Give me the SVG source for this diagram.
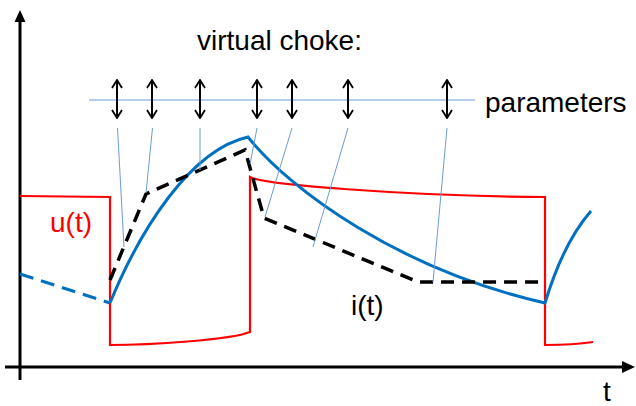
<svg xmlns="http://www.w3.org/2000/svg" width="636" height="406" viewBox="0 0 636 406">
<style>
text{font-family:"Liberation Sans",Arial,sans-serif;font-size:28px;fill:#000}
.red{fill:none;stroke:#FF0000;stroke-width:2.2}
.blue{fill:none;stroke:#0070C0;stroke-width:3}
.bdash{fill:none;stroke:#0070C0;stroke-width:3;stroke-dasharray:14 8}
.kdash{fill:none;stroke:#000;stroke-width:3.5;stroke-dasharray:13 8}
.lead{fill:none;stroke:#6C9BD8;stroke-width:1}
.dbl{fill:none;stroke:#000;stroke-width:2;marker-start:url(#chev);marker-end:url(#chev)}
.axis{fill:none;stroke:#000;stroke-width:3}
</style>
<defs>
<marker id="chev" markerUnits="userSpaceOnUse" viewBox="0 0 10 12" refX="9" refY="6" markerWidth="10" markerHeight="12" orient="auto-start-reverse">
<path d="M1,1 L9,6 L1,11" fill="none" stroke="#000" stroke-width="1.8"/>
</marker>
</defs>
<g id="axes">
<line class="axis" x1="20" y1="20" x2="20" y2="380"/>
<path d="M20,10 L14.5,22 L25.5,22 Z" fill="#000"/>
<line class="axis" x1="5" y1="367" x2="624" y2="367"/>
<path d="M635,367 L622,361 L622,373 Z" fill="#000"/>
<text x="603" y="401">t</text>
</g>
<g id="voltage">
<path class="red" d="M20,196 L110,197 L110,345 C150,345 230,340 250,332 L250,177 C262,184 400,196 545,197 L545,345 C560,345 580,344 593,342"/>
<text x="50" y="232" style="fill:#FF0000">u(t)</text>
</g>
<g id="current">
<path class="bdash" d="M20,274 L110,303"/>
<path class="blue" d="M110,303 C140,230 190,150 248,137 C290,190 400,270 545,303 C555,270 570,235 591,211"/>
<text x="351" y="315">i(t)</text>
</g>
<g id="choke-model">
<path class="kdash" d="M110,280 L146,194 L245,150 L264,218 L418,282 L545,282"/>
</g>
<g id="parameters">
<text x="197" y="50">virtual choke:</text>
<line class="lead" x1="89" y1="100" x2="475" y2="100"/>
<text x="485" y="112">parameters</text>
<g id="arrows">
<line class="dbl" x1="117" y1="80" x2="117" y2="118"/>
<line class="dbl" x1="152" y1="80" x2="152" y2="118"/>
<line class="dbl" x1="200" y1="80" x2="200" y2="118"/>
<line class="dbl" x1="257" y1="80" x2="257" y2="118"/>
<line class="dbl" x1="292" y1="80" x2="292" y2="118"/>
<line class="dbl" x1="348" y1="80" x2="348" y2="118"/>
<line class="dbl" x1="447" y1="80" x2="447" y2="118"/>
</g>
<g id="connectors">
<line class="lead" x1="117.5" y1="128" x2="124" y2="247"/>
<line class="lead" x1="152.5" y1="128" x2="146" y2="193"/>
<line class="lead" x1="200" y1="128" x2="200" y2="170"/>
<line class="lead" x1="257" y1="128" x2="250" y2="164"/>
<line class="lead" x1="292" y1="128" x2="265" y2="217"/>
<line class="lead" x1="348" y1="128" x2="313" y2="247"/>
<line class="lead" x1="447" y1="128" x2="433" y2="282"/>
</g>
</g>
</svg>
